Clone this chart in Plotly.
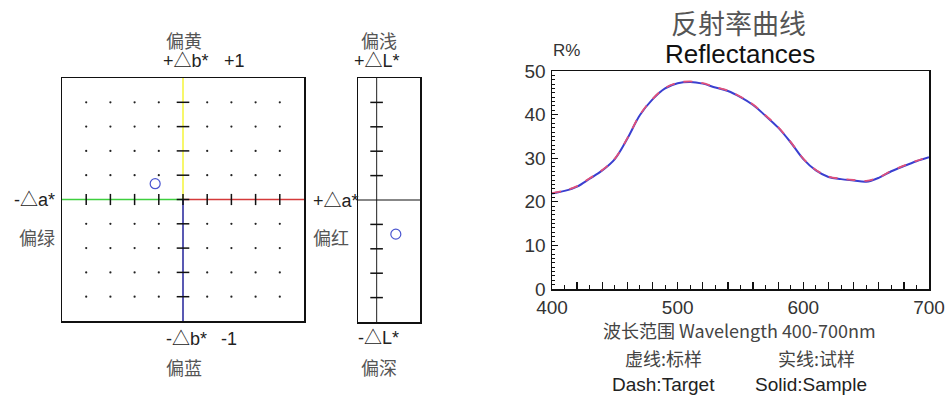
import plotly.graph_objects as go

# ---------------- data ----------------
wavelength = list(range(400, 701, 10))
sample_r = [21.9, 22.5, 23.5, 25.3, 27.2, 29.8, 34.5, 39.9, 43.5, 46.0, 47.2,
            47.5, 47.1, 46.2, 45.4, 44.0, 42.2, 39.7, 37.0, 33.6, 29.8,
            27.2, 25.7, 25.2, 24.9, 24.6, 25.5, 27.0, 28.2, 29.3, 30.2]
target_r = [22.0, 22.6, 23.6, 25.4, 27.3, 29.9, 34.6, 40.0, 43.6, 46.1, 47.3,
            47.6, 47.2, 46.3, 45.5, 44.1, 42.3, 39.8, 37.1, 33.7, 29.9,
            27.3, 25.8, 25.3, 25.0, 24.8, 25.6, 27.1, 28.3, 29.4, 30.3]
y_ticks = [0, 10, 20, 30, 40, 50]
x_major = list(range(400, 701, 20))
x_labels = [str(v) if v % 100 == 0 else "" for v in x_major]

grid_steps = [-0.8, -0.6, -0.4, -0.2, 0.2, 0.4, 0.6, 0.8]
delta_a = -0.23
delta_b = 0.13
delta_L = -0.28

W, H = 948, 399
FONT = "Liberation Sans, Arial, Noto Sans CJK SC, sans-serif"
CJK = "Noto Sans CJK SC, Liberation Sans, sans-serif"


def px(x):
    return x / W


def py(y):
    return 1 - y / H


fig = go.Figure()

# ---------------- reflectance chart ----------------
fig.add_trace(go.Scatter(x=wavelength, y=sample_r, mode="lines", line_shape="spline",
                         line=dict(color="#3a3fd0", width=2), xaxis="x", yaxis="y",
                         showlegend=False, hoverinfo="skip"))
fig.add_trace(go.Scatter(x=wavelength, y=target_r, mode="lines", line_shape="spline",
                         line=dict(color="#e0507a", width=1.8, dash="dash"), xaxis="x", yaxis="y",
                         showlegend=False, hoverinfo="skip"))

# ---------------- a*/b* box ----------------
dots_x = [gx for gx in grid_steps for gy in grid_steps]
dots_y = [gy for gx in grid_steps for gy in grid_steps]
fig.add_trace(go.Scatter(x=dots_x, y=dots_y, mode="markers", xaxis="x2", yaxis="y2",
                         marker=dict(color="#222", size=2.2), showlegend=False, hoverinfo="skip"))
# colored axis lines
fig.add_trace(go.Scatter(x=[-1, 0], y=[0, 0], mode="lines", xaxis="x2", yaxis="y2",
                         line=dict(color="#3ecf3e", width=1.5), showlegend=False, hoverinfo="skip"))
fig.add_trace(go.Scatter(x=[0, 1], y=[0, 0], mode="lines", xaxis="x2", yaxis="y2",
                         line=dict(color="#d43a3a", width=1.5), showlegend=False, hoverinfo="skip"))
fig.add_trace(go.Scatter(x=[0, 0], y=[0, 1], mode="lines", xaxis="x2", yaxis="y2",
                         line=dict(color="#f5f53a", width=1.5), showlegend=False, hoverinfo="skip"))
fig.add_trace(go.Scatter(x=[0, 0], y=[-1, 0], mode="lines", xaxis="x2", yaxis="y2",
                         line=dict(color="#22229a", width=1.5), showlegend=False, hoverinfo="skip"))
# ticks on axes
fig.add_trace(go.Scatter(x=grid_steps + [0], y=[0] * (len(grid_steps) + 1), mode="markers",
                         xaxis="x2", yaxis="y2",
                         marker=dict(symbol="line-ns", size=8, line=dict(color="#111", width=1.5)),
                         showlegend=False, hoverinfo="skip"))
fig.add_trace(go.Scatter(x=[0] * (len(grid_steps) + 1), y=grid_steps + [0], mode="markers",
                         xaxis="x2", yaxis="y2",
                         marker=dict(symbol="line-ew", size=9, line=dict(color="#111", width=1.5)),
                         showlegend=False, hoverinfo="skip"))
fig.add_trace(go.Scatter(x=[delta_a], y=[delta_b], mode="markers", xaxis="x2", yaxis="y2",
                         marker=dict(symbol="circle-open", size=10, color="#4a55d0",
                                     line=dict(width=1.2, color="#4a55d0")),
                         showlegend=False, hoverinfo="skip"))

# ---------------- L* box ----------------
L_axis_x = 0.3
fig.add_trace(go.Scatter(x=[L_axis_x, L_axis_x], y=[-1, 1], mode="lines", xaxis="x3", yaxis="y3",
                         line=dict(color="#444", width=1.2), showlegend=False, hoverinfo="skip"))
fig.add_trace(go.Scatter(x=[0, 1], y=[0, 0], mode="lines", xaxis="x3", yaxis="y3",
                         line=dict(color="#111", width=1.2), showlegend=False, hoverinfo="skip"))
fig.add_trace(go.Scatter(x=[L_axis_x] * len(grid_steps), y=grid_steps, mode="markers",
                         xaxis="x3", yaxis="y3",
                         marker=dict(symbol="line-ew", size=9, line=dict(color="#111", width=1.5)),
                         showlegend=False, hoverinfo="skip"))
fig.add_trace(go.Scatter(x=[0.61], y=[delta_L], mode="markers", xaxis="x3", yaxis="y3",
                         marker=dict(symbol="circle-open", size=10, color="#4a55d0",
                                     line=dict(width=1.2, color="#4a55d0")),
                         showlegend=False, hoverinfo="skip"))

box_axis = dict(showline=True, mirror=True, linecolor="#111", linewidth=1.5,
                showgrid=False, zeroline=False, showticklabels=False, ticks="",
                fixedrange=True, automargin=False)

fig.update_layout(
    template="none",
    width=W, height=H,
    margin=dict(l=0, r=0, t=0, b=0, pad=0),
    paper_bgcolor="white", plot_bgcolor="white",
    font=dict(family=FONT, color="#333"),
    xaxis=dict(domain=[px(552), px(929)], range=[400, 700], automargin=False,
               tickmode="array", tickvals=x_major, ticktext=x_labels,
               ticks="inside", ticklen=7, tickwidth=1.3, tickcolor="#111",
               minor=dict(dtick=10, tick0=400, ticks="inside", ticklen=4, tickcolor="#111", tickwidth=1),
               showline=True, mirror=True, linecolor="#111", linewidth=1.5,
               showgrid=False, zeroline=False, ticklabelstandoff=1,
               tickfont=dict(size=19, color="#333", family=FONT)),
    yaxis=dict(domain=[py(289), py(71)], range=[0, 50], automargin=False,
               tickmode="array", tickvals=y_ticks,
               ticks="inside", ticklen=6, tickwidth=1.3, tickcolor="#111",
               minor=dict(dtick=1, tick0=0, ticks="inside", ticklen=3, tickcolor="#111", tickwidth=1),
               showline=True, mirror=True, linecolor="#111", linewidth=1.5,
               showgrid=False, zeroline=False, ticklabelstandoff=1,
               tickfont=dict(size=19, color="#333", family=FONT)),
    xaxis2=dict(domain=[px(62), px(304)], range=[-1, 1], anchor="y2", **box_axis),
    yaxis2=dict(domain=[py(321), py(78)], range=[-1, 1], anchor="x2", **box_axis),
    xaxis3=dict(domain=[px(358), px(420)], range=[0, 1], anchor="y3", **box_axis),
    yaxis3=dict(domain=[py(322), py(78)], range=[-1, 1], anchor="x3", **box_axis),
)

annotations = [
    # reflectance titles
    ("反射率曲线", 738, 22, 27, "#555", CJK),
    ("Reflectances", 740, 54, 26, "#111", FONT),
    ("R%", 566, 50, 17, "#333", FONT),
    ("波长范围 Wavelength 400-700nm", 739, 330, 18, "#444", CJK),
    ("虚线:标样", 663, 358, 18, "#444", CJK),
    ("实线:试样", 816, 358, 18, "#444", CJK),
    ("Dash:Target", 663, 384, 19, "#222", FONT),
    ("Solid:Sample", 811, 384, 19, "#222", FONT),
    # a*/b* labels
    ("偏黄", 184, 40, 18, "#555", CJK),
    ("+△b*", 186, 61, 18, "#222", FONT),
    ("+1", 234, 61, 18, "#222", FONT),
    ("-△b*", 186, 339, 18, "#222", FONT),
    ("-1", 229, 339, 18, "#222", FONT),
    ("偏蓝", 184, 367, 18, "#555", CJK),
    ("-△a*", 34, 200, 18, "#222", FONT),
    ("偏绿", 37, 237, 18, "#555", CJK),
    ("+△a*", 336, 201, 18, "#222", FONT),
    ("偏红", 331, 237, 18, "#555", CJK),
    # L* labels
    ("偏浅", 379, 40, 18, "#555", CJK),
    ("+△L*", 377, 61, 18, "#222", FONT),
    ("-△L*", 378, 338, 18, "#222", FONT),
    ("偏深", 379, 367, 18, "#555", CJK),
]
for text, x, y, size, color, fam in annotations:
    fig.add_annotation(text=text, x=px(x), y=py(y), xref="paper", yref="paper",
                       xanchor="center", yanchor="middle", showarrow=False,
                       font=dict(size=size, color=color, family=fam))

fig.write_html("out.html", config={"displayModeBar": False, "staticPlot": True},
               post_script="document.body.style.margin='0';document.body.style.overflow='hidden';")
